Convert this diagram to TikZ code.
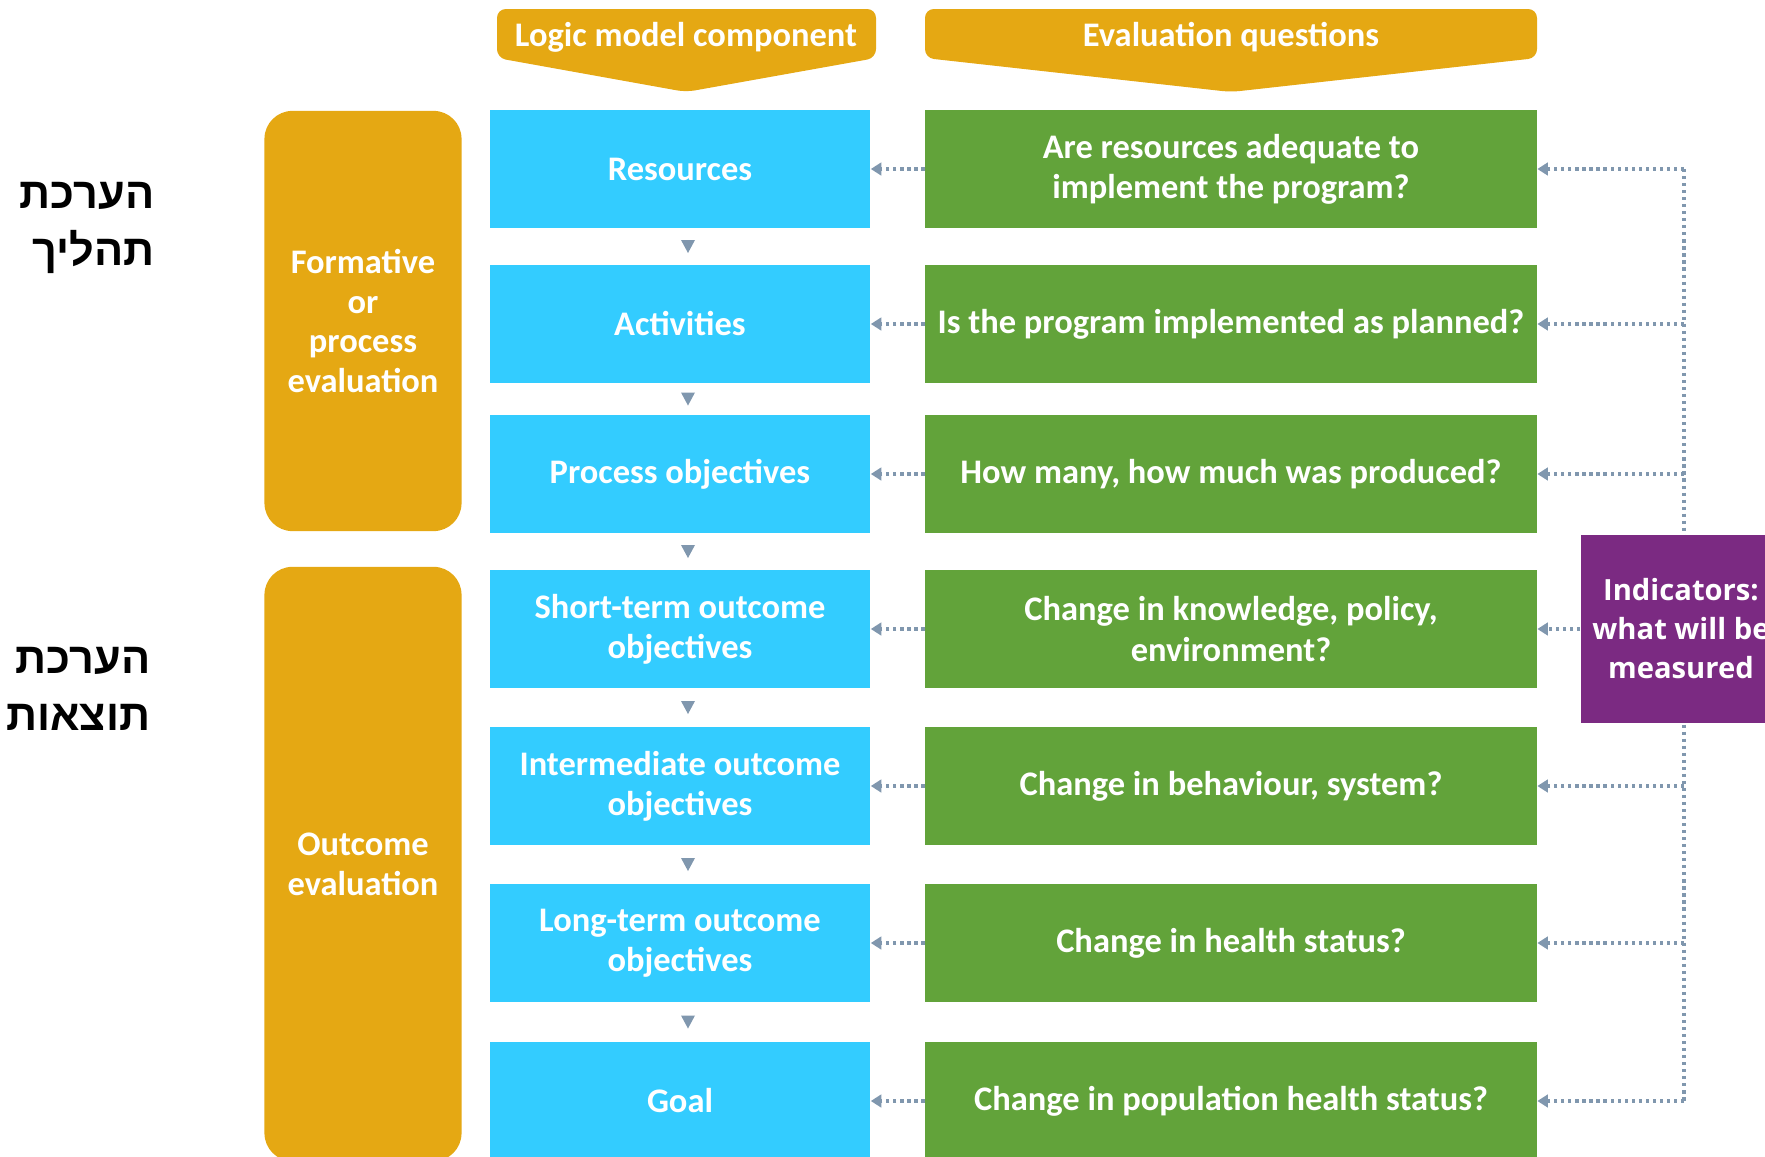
\documentclass[tikz,border=0pt]{standalone}
\usepackage{fontspec}
\usepackage{tikz}
\usetikzlibrary{calc,arrows.meta}
\setmainfont{Carlito}
\newfontfamily\hebfont[Script=Hebrew]{Liberation Sans}
\newfontfamily\indfont{Open Sans}
\TeXXeTstate=1

\definecolor{compblue}{HTML}{33CCFF}
\definecolor{questgreen}{HTML}{62A33A}
\definecolor{phaseorange}{HTML}{E5A813}
\definecolor{indpurple}{HTML}{7B2A82}
\definecolor{linkgray}{HTML}{8097AE}

\begin{document}
\begin{tikzpicture}[x=0.01cm, y=-0.01cm,
    comp/.style={fill=compblue, text=white, minimum width=3.8cm, minimum height=1.18cm,
      inner sep=0pt, align=center, font=\fontsize{9.8}{11.4}\selectfont\bfseries},
    quest/.style={comp, fill=questgreen, minimum width=6.11cm},
    phase/.style={fill=phaseorange, rounded corners=0.28cm, minimum width=1.97cm, inner sep=0pt,
      text=white, align=center, font=\fontsize{9.8}{11.3}\selectfont\bfseries},
    hdr/.style={fill=phaseorange, rounded corners=2.5pt},
    hdrtext/.style={text=white, font=\fontsize{9.8}{11.4}\selectfont\bfseries},
    heb/.style={align=right, anchor=east, inner sep=0pt, font=\hebfont\bfseries\fontsize{12.3}{16}\selectfont},
    link/.style={linkgray, line width=0.9pt, dash pattern=on 0.9pt off 1.1pt,
      -{Triangle[length=3pt,width=3.6pt]}},
    spineline/.style={linkgray, line width=0.9pt, dash pattern=on 0.9pt off 1.1pt},
    tri/.style={fill=linkgray}]
        \useasboundingbox (0,0) rectangle (1765,1157);
        \clip (0,0) rectangle (1765,1157);

        % hebrew side labels
        \node[heb] (proclbl) at (155,228) {\beginR הערכת\endR\\\beginR תהליך\endR};
        \node[heb] (outlbl) at (151,689) {\beginR הערכת\endR\\\beginR תוצאות\endR};

        % phases
        \node[phase, minimum height=4.2cm] (formative) at (363,321) {Formative\\or\\process\\evaluation};
        \node[phase, minimum height=5.94cm] (outcome) at (363,864) {Outcome\\evaluation};

        % column headers
        \fill[hdr] (497,9) -- (876,9) -- (876,58) -- (686,92) -- (497,58) -- cycle;
        \node[hdrtext] (hdrcomp) at (686,37) {Logic model component};
        \fill[hdr] (925,9) -- (1537,9) -- (1537,58) -- (1231,92) -- (925,58) -- cycle;
        \node[hdrtext] (hdrquest) at (1231,37) {Evaluation questions};

        % logic model components
        \node[comp] (res) at (680,169) {Resources};
        \node[comp] (act) at (680,324) {Activities};
        \node[comp] (pobj) at (680,474) {Process objectives};
        \node[comp] (short) at (680,629) {Short-term outcome\\objectives};
        \node[comp] (inter) at (680,786) {Intermediate outcome\\objectives};
        \node[comp] (long) at (680,943) {Long-term outcome\\objectives};
        \node[comp] (goal) at (680,1101) {Goal};

        \fill[tri] ($(res.south)!0.5!(act.north)$) ++(1,-6.5) -- ++(14,0) -- ++(-7,13) -- cycle;
        \fill[tri] ($(act.south)!0.5!(pobj.north)$) ++(1,-6.5) -- ++(14,0) -- ++(-7,13) -- cycle;
        \fill[tri] ($(pobj.south)!0.5!(short.north)$) ++(1,-6.5) -- ++(14,0) -- ++(-7,13) -- cycle;
        \fill[tri] ($(short.south)!0.5!(inter.north)$) ++(1,-6.5) -- ++(14,0) -- ++(-7,13) -- cycle;
        \fill[tri] ($(inter.south)!0.5!(long.north)$) ++(1,-6.5) -- ++(14,0) -- ++(-7,13) -- cycle;
        \fill[tri] ($(long.south)!0.5!(goal.north)$) ++(1,-6.5) -- ++(14,0) -- ++(-7,13) -- cycle;

        % evaluation questions
        \node[quest] (q1) at (1231,169) {Are resources adequate to\\implement the program?};
        \node[quest] (q2) at (1231,324) {Is the program implemented as planned?};
        \node[quest] (q3) at (1231,474) {How many, how much was produced?};
        \node[quest] (q4) at (1231,629) {Change in knowledge, policy,\\environment?};
        \node[quest] (q5) at (1231,786) {Change in behaviour, system?};
        \node[quest] (q6) at (1231,943) {Change in health status?};
        \node[quest] (q7) at (1231,1101) {Change in population health status?};

        \draw[link] (q1.west) -- (res.east);
        \draw[link] (q2.west) -- (act.east);
        \draw[link] (q3.west) -- (pobj.east);
        \draw[link] (q4.west) -- (short.east);
        \draw[link] (q5.west) -- (inter.east);
        \draw[link] (q6.west) -- (long.east);
        \draw[link] (q7.west) -- (goal.east);

        % indicators
        \coordinate (spine) at (1684,169);
        \draw[spineline] (q1.east -| spine) -- (q7.east -| spine);
        \node[fill=indpurple, text=white, inner sep=0pt, minimum width=2cm, minimum height=1.88cm, align=center,
          font=\indfont\bfseries\fontsize{8.3}{11.1}\selectfont] (ind) at (1681,629) {Indicators:\\what will be\\measured};

        \draw[link] (q1.east -| spine) -- (q1.east);
        \draw[link] (q2.east -| spine) -- (q2.east);
        \draw[link] (q3.east -| spine) -- (q3.east);
        \draw[link] (ind.west) -- (q4.east);
        \draw[link] (q5.east -| spine) -- (q5.east);
        \draw[link] (q6.east -| spine) -- (q6.east);
        \draw[link] (q7.east -| spine) -- (q7.east);
      \end{tikzpicture}
\end{document}
